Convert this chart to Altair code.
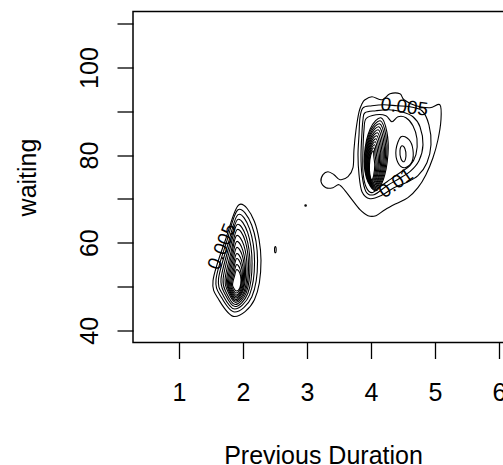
import altair as alt
import pandas as pd

# ---- contour lines of the left cluster (outer -> inner), data units ----
LEFT_X = [
    [1.938, 2.178, 2.281, 2.178, 1.869, 1.622, 1.531, 1.734],
    [1.922, 2.135, 2.227, 2.138, 1.870, 1.656, 1.578, 1.750],
    [1.922, 2.102, 2.180, 2.102, 1.870, 1.684, 1.617, 1.770],
    [1.914, 2.073, 2.141, 2.074, 1.875, 1.714, 1.656, 1.785],
    [1.906, 2.048, 2.109, 2.052, 1.877, 1.738, 1.688, 1.797],
    [1.906, 2.032, 2.086, 2.036, 1.884, 1.763, 1.719, 1.813],
    [1.898, 2.013, 2.063, 2.019, 1.886, 1.781, 1.742, 1.820],
    [1.898, 1.997, 2.039, 2.000, 1.884, 1.792, 1.758, 1.828],
    [1.898, 1.986, 2.023, 1.989, 1.886, 1.803, 1.773, 1.836],
    [1.898, 1.975, 2.008, 1.978, 1.888, 1.816, 1.789, 1.844],
    [1.898, 1.964, 1.992, 1.966, 1.889, 1.827, 1.805, 1.852],
    [1.898, 1.953, 1.977, 1.955, 1.891, 1.839, 1.820, 1.859],
    [1.898, 1.948, 1.969, 1.950, 1.895, 1.852, 1.836, 1.867],
]
LEFT_Y = [
    [68.68, 64.85, 55.91, 46.96, 43.13, 46.96, 51.34, 61.02],
    [67.54, 64.03, 55.85, 47.67, 44.16, 47.67, 51.64, 60.53],
    [66.40, 63.16, 55.62, 48.08, 44.84, 48.08, 51.73, 59.93],
    [65.26, 62.28, 55.34, 48.38, 45.41, 48.38, 51.75, 59.31],
    [64.12, 61.38, 54.99, 48.60, 45.87, 48.60, 51.71, 58.64],
    [62.98, 60.48, 54.65, 48.83, 46.32, 48.83, 51.66, 57.98],
    [61.61, 59.37, 54.14, 48.90, 46.67, 48.90, 51.46, 57.13],
    [60.24, 58.26, 53.62, 48.99, 47.01, 48.99, 51.25, 56.27],
    [58.87, 57.14, 53.11, 49.08, 47.35, 49.08, 51.05, 55.42],
    [57.50, 56.03, 52.60, 49.16, 47.69, 49.16, 50.84, 54.56],
    [56.36, 55.11, 52.20, 49.29, 48.03, 49.29, 50.70, 53.86],
    [54.99, 54.01, 51.74, 49.47, 48.49, 49.47, 50.57, 53.04],
    [53.85, 53.12, 51.40, 49.68, 48.95, 49.68, 50.52, 52.38],
]

# ---- dense core of the right cluster ----
CORE_X = [
    [4.156, 4.250, 4.266, 4.192, 4.064, 3.928, 3.898, 3.989],
    [4.145, 4.231, 4.247, 4.178, 4.059, 3.933, 3.905, 3.989],
    [4.134, 4.213, 4.228, 4.165, 4.055, 3.938, 3.913, 3.991],
    [4.123, 4.194, 4.209, 4.152, 4.050, 3.942, 3.920, 3.991],
    [4.113, 4.175, 4.191, 4.138, 4.045, 3.948, 3.927, 3.992],
    [4.102, 4.156, 4.172, 4.124, 4.041, 3.953, 3.934, 3.992],
    [4.091, 4.138, 4.153, 4.111, 4.036, 3.958, 3.941, 3.994],
    [4.080, 4.119, 4.134, 4.097, 4.031, 3.963, 3.948, 3.994],
    [4.069, 4.100, 4.116, 4.083, 4.027, 3.967, 3.955, 3.995],
    [4.058, 4.081, 4.097, 4.070, 4.023, 3.972, 3.962, 3.995],
    [4.047, 4.063, 4.078, 4.056, 4.018, 3.978, 3.969, 3.996],
    [4.036, 4.044, 4.059, 4.042, 4.014, 3.983, 3.976, 3.997],
]
CORE_Y = [
    [88.53, 85.20, 80.20, 74.37, 71.88, 74.86, 80.20, 86.03],
    [87.85, 84.70, 79.97, 74.46, 72.10, 74.93, 79.97, 85.48],
    [87.16, 84.19, 79.75, 74.56, 72.33, 75.00, 79.75, 84.94],
    [86.48, 83.69, 79.52, 74.65, 72.56, 75.07, 79.52, 84.39],
    [85.79, 83.19, 79.29, 74.74, 72.79, 75.14, 79.29, 83.84],
    [85.11, 82.69, 79.06, 74.83, 73.02, 75.18, 79.06, 83.29],
    [84.42, 82.19, 78.83, 74.92, 73.24, 75.25, 78.83, 82.75],
    [83.74, 81.69, 78.61, 75.01, 73.47, 75.32, 78.61, 82.20],
    [83.05, 81.18, 78.38, 75.10, 73.70, 75.39, 78.38, 81.65],
    [82.37, 80.68, 78.15, 75.19, 73.93, 75.46, 78.15, 81.10],
    [81.69, 80.18, 77.92, 75.29, 74.16, 75.51, 77.92, 80.56],
    [81.00, 79.68, 77.69, 75.38, 74.38, 75.57, 77.69, 80.01],
]

# ---- wide outer contours of the right cluster (0.005, 0.01, 0.015, 0.02) ----
OUTER_X = [
    [3.906, 4.016, 4.172, 4.297, 4.453, 4.516, 4.703, 4.922, 5.078, 5.094, 5.047,
     4.969, 4.859, 4.734, 4.578, 4.391, 4.219, 4.078, 3.953, 3.828, 3.703, 3.594,
     3.500, 3.406, 3.297, 3.219, 3.250, 3.328, 3.422, 3.516, 3.641, 3.719, 3.734,
     3.766, 3.813, 3.859],
    [3.875, 4.016, 4.203, 4.406, 4.609, 4.797, 4.906, 4.938, 4.875, 4.734, 4.547,
     4.359, 4.156, 3.984, 3.859, 3.813, 3.797, 3.813, 3.828],
    [3.906, 4.078, 4.281, 4.484, 4.656, 4.766, 4.813, 4.750, 4.609, 4.438, 4.250,
     4.047, 3.922, 3.859, 3.844, 3.859, 3.875],
    [3.922, 4.078, 4.234, 4.328, 4.422, 4.547, 4.656, 4.719, 4.703, 4.609, 4.453,
     4.297, 4.141, 4.016, 3.922, 3.875, 3.875, 3.891],
]
OUTER_Y = [
    [92.64, 93.32, 92.64, 94.00, 94.00, 92.64, 91.27, 90.81, 91.50, 88.07, 83.51,
     79.40, 75.53, 72.56, 70.28, 68.91, 67.54, 66.17, 66.17, 67.54, 69.82, 71.88,
     73.24, 72.56, 72.56, 73.93, 75.53, 76.21, 75.53, 74.39, 75.07, 77.12, 81.23,
     85.79, 89.90, 91.72],
    [90.81, 91.27, 91.50, 91.27, 91.04, 90.13, 86.93, 82.37, 78.26, 75.30, 73.70,
     72.56, 70.73, 70.05, 71.65, 75.53, 80.09, 84.65, 88.53],
    [89.67, 90.13, 90.35, 89.90, 88.76, 86.48, 82.37, 78.72, 76.21, 74.61, 73.02,
     70.96, 71.65, 75.53, 80.09, 85.11, 88.07],
    [88.30, 89.21, 88.99, 87.62, 88.76, 88.53, 86.70, 83.74, 80.09, 77.58, 75.98,
     74.39, 72.79, 71.42, 72.79, 76.21, 81.23, 85.79],
]

# ---- secondary bump of the right cluster and isolated specks ----
SMALL_X = [
    [4.469, 4.594, 4.656, 4.641, 4.531, 4.422, 4.391],
    [4.484, 4.531, 4.547, 4.516, 4.469, 4.453],
    [2.505, 2.518, 2.505, 2.492],
    [2.978, 2.990, 2.978, 2.966],
]
SMALL_Y = [
    [84.19, 83.51, 81.23, 78.49, 77.12, 78.26, 81.23],
    [82.14, 81.46, 79.86, 78.49, 79.18, 81.00],
    [57.70, 58.40, 59.10, 58.40],
    [68.35, 68.50, 68.65, 68.50],
]

# ---- contour labels ----
LABEL_TEXT = ["0.005", "0.005", "0.01"]
LABEL_X = [1.672, 4.52, 4.39]
LABEL_Y = [59.1, 91.0, 73.6]
LABEL_ANGLE = [292, 7, 325]

X_TICKS = [1, 2, 3, 4, 5, 6]
Y_TICKS = [40, 50, 60, 70, 80, 90, 100, 110]
X_DOMAIN = [0.28, 6.22]
Y_DOMAIN = [37.2, 112.8]

rows = []
for name, xs_list, ys_list in [("L", LEFT_X, LEFT_Y), ("C", CORE_X, CORE_Y),
                               ("O", OUTER_X, OUTER_Y), ("S", SMALL_X, SMALL_Y)]:
    for c, (xs, ys) in enumerate(zip(xs_list, ys_list)):
        for i, (x, y) in enumerate(zip(xs, ys)):
            rows.append({"cid": f"{name}{c}", "i": i, "x": x, "y": y})
df = pd.DataFrame(rows)

labels_df = pd.DataFrame({"t": LABEL_TEXT, "x": LABEL_X, "y": LABEL_Y, "a": LABEL_ANGLE})
frame_df = pd.DataFrame({"x0": [X_DOMAIN[0]], "x1": [X_DOMAIN[1]],
                         "y0": [Y_DOMAIN[0]], "y1": [Y_DOMAIN[1]]})

FONT = "Liberation Sans"
xsc = alt.Scale(domain=X_DOMAIN, nice=False, zero=False)
ysc = alt.Scale(domain=Y_DOMAIN, nice=False, zero=False)

x_axis = alt.Axis(values=X_TICKS, format="d", title="Previous Duration", grid=False,
                  domain=False, tickSize=16, tickWidth=1.3, tickColor="black",
                  labelFont=FONT, labelFontSize=25, labelColor="black",
                  labelBaseline="alphabetic", labelAlign="center", labelPadding=41.5,
                  labelOverlap=False, labelFlush=False, labelBound=False,
                  titleFont=FONT, titleFontSize=25, titleFontWeight="normal",
                  titleColor="black", titleX=190, titleY=120.5,
                  titleBaseline="alphabetic", titleAlign="center")
y_axis = alt.Axis(values=Y_TICKS, format="d", title="waiting", grid=False, domain=False,
                  tickSize=16, tickWidth=1.3, tickColor="black",
                  labelExpr="datum.value % 20 == 0 ? datum.label : ''",
                  labelFont=FONT, labelFontSize=25, labelColor="black",
                  labelAngle=270, labelAlign="center", labelBaseline="alphabetic",
                  labelPadding=20, labelOverlap=False, labelFlush=False, labelBound=False,
                  titleFont=FONT, titleFontSize=25, titleFontWeight="normal",
                  titleColor="black", titleAngle=270, titleX=-98, titleY=165.5,
                  titleBaseline="alphabetic", titleAlign="center")

lines = alt.Chart(df).mark_line(
    interpolate="cardinal-closed", color="black", strokeWidth=1.1, clip=True
).encode(
    x=alt.X("x:Q", scale=xsc, axis=x_axis),
    y=alt.Y("y:Q", scale=ysc, axis=y_axis),
    detail="cid:N",
    order="i:Q",
)

frame = alt.Chart(frame_df).mark_rect(
    filled=False, stroke="black", strokeWidth=1.5
).encode(
    x=alt.X("x0:Q", scale=xsc),
    x2="x1:Q",
    y=alt.Y("y0:Q", scale=ysc),
    y2="y1:Q",
)

texts = alt.Chart(labels_df).mark_text(
    font=FONT, fontSize=19, color="black", align="center", baseline="middle"
).encode(
    x=alt.X("x:Q", scale=xsc),
    y=alt.Y("y:Q", scale=ysc),
    text="t:N",
    angle=alt.Angle("a:Q", scale=None),
)

chart = alt.layer(lines, texts, frame).properties(
    width=380,
    height=331,
    padding={"left": 133, "top": 11.5, "right": -10, "bottom": 122.5},
    autosize=alt.AutoSizeParams(type="none"),
    background="white",
).configure_view(stroke=None)

chart.save("out.html", embed_options={"renderer": "svg", "actions": False})
